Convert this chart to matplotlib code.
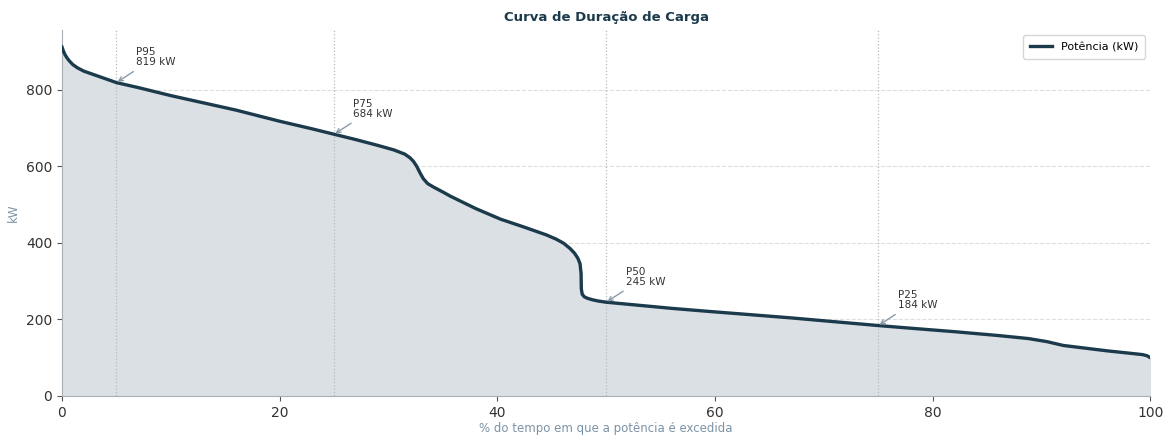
import numpy as np
import matplotlib
matplotlib.use("Agg")
from matplotlib import pyplot as plt

# curva de duração (% do tempo, kW)
pct = [0, 0.15, 0.3, 0.5, 0.7, 1.0, 1.4, 2, 3, 4, 5, 7, 10, 13, 16, 20, 23,
       25, 27, 29, 30.5, 31.5, 32.0, 32.3, 32.6, 32.9, 33.2, 33.6, 34.2, 35,
       35.7, 38, 40.3, 42.5, 44.5, 45.4, 46.1, 46.7, 47.1, 47.4, 47.6, 47.7,
       47.72, 47.8, 48.0, 48.3, 48.8, 49.3, 50, 53, 56, 59.4, 63, 67, 71, 75,
       78, 82, 86, 88.8, 90.5, 92, 94, 96, 98, 99.3, 99.7, 100]
kw = [912, 900, 891, 882, 875, 866, 858, 849, 839, 829, 819, 806, 785, 766,
      747, 718, 698, 684, 670, 655, 643, 632, 622, 613, 600, 583, 568, 555,
      545, 533, 522, 490, 462, 441, 421, 410, 399, 385, 373, 360, 346, 320,
      280, 266, 259, 255, 251, 248, 245, 237, 229, 221, 213, 204, 194, 184,
      177, 168, 158, 150, 142, 132, 125, 118, 112, 108, 105, 100]

marks = [5, 25, 50, 75]
mark_names = ["P95", "P75", "P50", "P25"]
mark_vals = [819, 684, 245, 184]

navy = "#1b3a4b"
muted = "#7b93a6"

fig = plt.figure(figsize=(11.69, 4.38), dpi=100)
ax = fig.add_axes([0.053, 0.096, 0.931, 0.836])

ax.fill_between(pct, kw, 0, color="#dbe0e4", zorder=1)
ax.plot(pct, kw, color=navy, lw=2.4, label="Potência (kW)", zorder=3,
        solid_joinstyle="round")

for p, name, v in zip(marks, mark_names, mark_vals):
    ax.axvline(p, color="#b3bcc4", ls=":", lw=0.9, zorder=2)
    ax.annotate(f"{name}\n{v} kW", xy=(p, v), xytext=(14, 11),
                textcoords="offset points", fontsize=7.5, color="#333333",
                ha="left", va="bottom", linespacing=1.0,
                arrowprops=dict(arrowstyle="->", color="#8a9aa8", lw=1,
                                shrinkA=2, shrinkB=1))

ax.set_xlim(0, 100)
ax.set_ylim(0, 957)
ax.set_xticks([0, 20, 40, 60, 80, 100])
ax.set_yticks([0, 200, 400, 600, 800])
ax.grid(axis="y", ls="--", color="#dcdfe2", lw=0.8, zorder=0)
ax.set_axisbelow(True)

for s in ["top", "right"]:
    ax.spines[s].set_visible(False)
for s in ["left", "bottom"]:
    ax.spines[s].set_color("#a8b0b6")
ax.tick_params(labelsize=10, colors="#333333")
ax.tick_params(color="#555555")

ax.set_title("Curva de Duração de Carga", fontsize=9.5, fontweight="bold",
             color=navy, pad=6)
ax.set_xlabel("% do tempo em que a potência é excedida", fontsize=8.5,
              color=muted, labelpad=2)
ax.set_ylabel("kW", fontsize=8.5, color=muted)

ax.legend(loc="upper right", fontsize=8, frameon=True, edgecolor="#cccccc",
          fancybox=True, borderpad=0.6)

fig.savefig("out.png", dpi=100)
